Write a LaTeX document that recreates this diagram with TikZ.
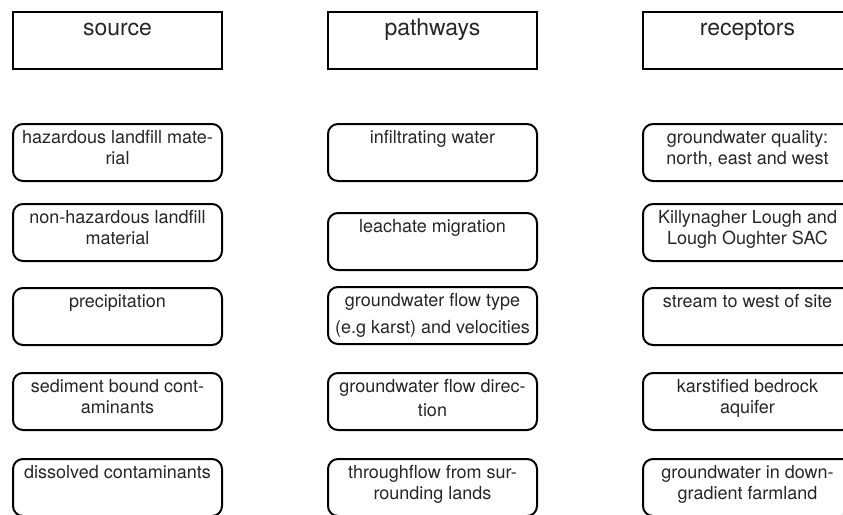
\documentclass[tikz,border=0pt]{standalone}
\usepackage{fontspec}
\setmainfont{TeX Gyre Heros}
\begin{document}
\begin{tikzpicture}[x=1pt,y=-1pt,
  hdr/.style={draw, line width=2pt, minimum width=209pt, minimum height=57pt, anchor=north west, inner sep=0pt},
  card/.style={draw, line width=2pt, rounded corners=10pt, minimum width=209pt, minimum height=57pt, anchor=north west, inner sep=0pt},
  cardtext/.style={anchor=north, inner sep=0pt, align=center, font=\fontsize{18}{21}\selectfont, text=black!85},
  hdrtext/.style={anchor=north, inner sep=0pt, font=\fontsize{23}{27}\selectfont, text=black!85}]
\useasboundingbox (0,0) rectangle (843,514);
% headers
\node[hdr] (hs) at (12,11) {};
\node[hdr] (hp) at (327,11) {};
\node[hdr] (hr) at (642,11) {};
\node[hdrtext] (ths) at ([yshift=-5pt]hs.north) {\rule{0pt}{19pt}source};
\node[hdrtext] (thp) at ([yshift=-5pt]hp.north) {\rule{0pt}{19pt}pathways};
\node[hdrtext] (thr) at ([yshift=-5pt]hr.north) {\rule{0pt}{19pt}receptors};
% source column
\node[card] (s1) at (12,123) {};
\node[card] (s2) at (12,203) {};
\node[card] (s3) at (12,287) {};
\node[card] (s4) at (12,372) {};
\node[card] (s5) at (12,458) {};
\node[cardtext] (ts1) at ([yshift=-5pt]s1.north) {\rule{0pt}{15pt}hazardous landfill mate-\\rial};
\node[cardtext] (ts2) at ([yshift=-5pt]s2.north) {\rule{0pt}{15pt}non-hazardous landfill\\material};
\node[cardtext] (ts3) at ([yshift=-5pt]s3.north) {\rule{0pt}{15pt}precipitation};
\node[cardtext] (ts4) at ([yshift=-5pt]s4.north) {\rule{0pt}{15pt}sediment bound cont-\\aminants};
\node[cardtext] (ts5) at ([yshift=-5pt]s5.north) {\rule{0pt}{15pt}dissolved contaminants};
% pathways column
\node[card] (p1) at (327,123) {};
\node[card] (p2) at (327,212) {};
\node[card] (p3) at (327,286) {};
\node[card] (p4) at (327,372) {};
\node[card] (p5) at (327,458) {};
\node[cardtext] (tp1) at ([yshift=-5pt]p1.north) {\rule{0pt}{15pt}infiltrating water};
\node[cardtext] (tp2) at ([yshift=-5pt]p2.north) {\rule{0pt}{15pt}leachate migration};
\node[cardtext] (tp3) at ([yshift=-5pt]p3.north) {\rule{0pt}{15pt}groundwater flow type\\[6pt](e.g karst) and velocities};
\node[cardtext] (tp4) at ([yshift=-5pt]p4.north) {\rule{0pt}{15pt}groundwater flow direc-\\[3pt]tion};
\node[cardtext] (tp5) at ([yshift=-5pt]p5.north) {\rule{0pt}{15pt}throughflow from sur-\\rounding lands};
% receptors column
\node[card] (r1) at (642,123) {};
\node[card] (r2) at (642,203) {};
\node[card] (r3) at (642,287) {};
\node[card] (r4) at (642,372) {};
\node[card] (r5) at (642,458) {};
\node[cardtext] (tr1) at ([yshift=-5pt]r1.north) {\rule{0pt}{15pt}groundwater quality:\\north, east and west};
\node[cardtext] (tr2) at ([yshift=-5pt]r2.north) {\rule{0pt}{15pt}Killynagher Lough and\\Lough Oughter SAC};
\node[cardtext] (tr3) at ([yshift=-5pt]r3.north) {\rule{0pt}{15pt}stream to west of site};
\node[cardtext] (tr4) at ([yshift=-5pt]r4.north) {\rule{0pt}{15pt}karstified bedrock\\aquifer};
\node[cardtext] (tr5) at ([yshift=-5pt]r5.north) {\rule{0pt}{15pt}groundwater in down-\\gradient farmland};
\end{tikzpicture}
\end{document}
